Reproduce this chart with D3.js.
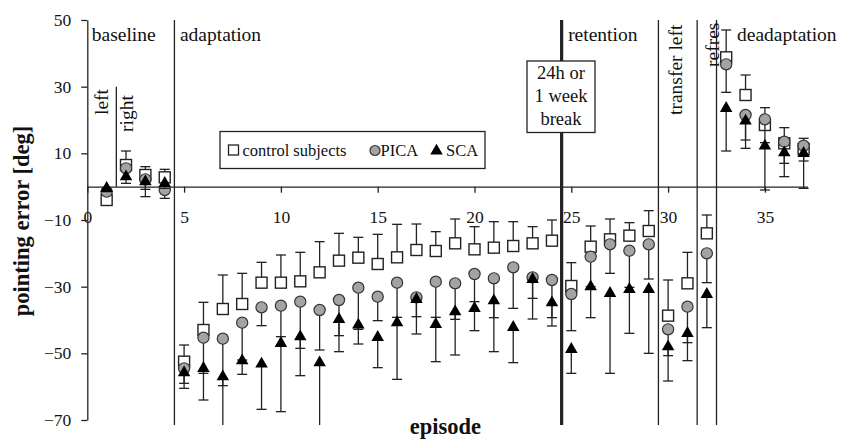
<!DOCTYPE html>
<html>
<head>
<meta charset="utf-8">
<script src="https://cdn.jsdelivr.net/npm/d3@7/dist/d3.min.js"></script>
<style>
  body { margin: 0; background: #fff; }
  svg text { font-family: "Liberation Serif", "Times New Roman", serif; }
</style>
</head>
<body>
<div id="chart"></div>
<script>
const episodes = [1,2,3,4,5,6,7,8,9,10,11,12,13,14,15,16,17,18,19,20,21,22,23,24,25,26,27,28,29,30,31,32,33,34,35,36,37];

const control = [-4, 6.5, 3.5, 2.8, -52.5, -43, -36.7, -35.2, -28.8, -28.8, -28.4, -25.7, -22.2, -21.3, -23.2, -21.2, -19, -19.3, -17, -18.8, -18.3, -17.8, -17, -16.2, -29.8, -18, -15.8, -14.7, -13.3, -38.7, -29, -14, 38.8, 27.5, 18.5, 13, 11.3];
const controlErr = [1, 4.2, 2.5, 2.4, 5, 8.3, 10.2, 9.2, 6.1, 8.3, 8.7, 9.2, 8.2, 6.1, 8.9, 9.9, 7.8, 5.8, 7.3, 6.8, 7.8, 7.3, 5, 6.2, 7, 6.2, 6.1, 3.9, 6.1, 10.7, 9.3, 5.5, 8.2, 6, 5.2, 4.7, 3.2];

const pica = [-1.5, 5.5, 2.2, -1, -54.5, -45.3, -45.6, -40.8, -36.2, -35.7, -34.5, -37, -34, -30.3, -33, -28.8, -33.2, -28.5, -29, -26.2, -27.5, -24.2, -27.2, -28, -32.2, -21, -17.3, -19.2, -17.3, -42.8, -36, -20, 36.7, 21.5, 20.2, 13.5, 12.3];
const picaErr = [1, 3, 3, 2.5, 4.5, 10.7, 14.1, 11.2, 5.5, 9.3, 14, 12, 10.7, 12.5, 7.2, 10.4, 5.8, 10.7, 10.8, 8.3, 11.8, 12.3, 6.3, 11.3, 11, 9, 8.7, 11, 10.4, 7.9, 10.8, 8.8, 8.4, 7.5, 7, 6.5, 4.6];

const sca = [-0.5, 3, 1.5, 1, -55.8, -54.5, -57, -52.2, -53.2, -47, -45, -52.8, -39.8, -41.5, -45.2, -40.8, -33.8, -41.3, -37.5, -36.5, -34.2, -42.2, -27.8, -34.8, -48.8, -30, -32, -30.8, -30.8, -48, -44, -32.3, 23.5, 19.7, 12.2, 10.2, 10];
const scaErr = [1, 2, 4.5, 1.5, 4.7, 9.5, 16, 4.1, 13.6, 20.5, 11.7, 20, 9.7, 5.7, 9.1, 17, 10.4, 11.2, 13, 6.7, 15.3, 10.6, 11.9, 7, 7.2, 9.3, 24, 13.2, 19.2, 10.3, 8.2, 10, 12.8, 8.2, 13.2, 7.2, 10.5];

const xTicks = [0, 5, 10, 15, 20, 25, 30, 35];
const yTicks = [50, 30, 10, -10, -30, -50, -70];

// phase boundaries (episode positions) and their labels
const boundaries = [4.5, 24.5, 29.5, 31.5, 32.5];
const phases = [
  {text: "baseline", at: 0, pad: 4.5},
  {text: "adaptation", at: 4.5, pad: 5.5},
  {text: "retention", at: 24.5, pad: 6.5},
  {text: "deadaptation", at: 32.5, pad: 20.5}
];

const W = 852, H = 442;
const ink = "#222";
const serif = "'Liberation Serif', 'Times New Roman', serif";

const svg = d3.select("#chart").append("svg")
  .attr("width", W)
  .attr("height", H)
  .attr("font-family", serif);

const x = d3.scaleLinear().domain([0, 37.2]).range([87.3, 807.5]);
const y = d3.scaleLinear().domain([-70, 50]).range([420, 20]);

svg.append("defs").append("clipPath").attr("id", "plot")
  .append("rect")
  .attr("x", 80).attr("y", y(50) - 2)
  .attr("width", 740).attr("height", y(-71.5) - y(50) + 2);

// axes
const xAxis = d3.axisBottom(x).tickValues(xTicks).tickSize(6).tickSizeOuter(0).tickPadding(18);
const yAxis = d3.axisLeft(y).tickValues(yTicks).tickSize(6).tickSizeOuter(0).tickPadding(10);

const gx = svg.append("g")
  .attr("transform", "translate(0," + y(0) + ")")
  .call(xAxis);
const gy = svg.append("g")
  .attr("transform", "translate(" + x(0) + ",0)")
  .call(yAxis);

[gx, gy].forEach(g => {
  g.attr("font-family", serif).attr("font-size", 17.5);
  g.select(".domain").attr("stroke", ink).attr("stroke-width", 1.3);
  g.selectAll(".tick line").attr("stroke", ink).attr("stroke-width", 1.3);
  g.selectAll(".tick text").attr("fill", "#111");
});

// phase separator lines
svg.selectAll(".sep")
  .data(boundaries)
  .enter()
  .append("line")
  .attr("x1", d => x(d)).attr("x2", d => x(d))
  .attr("y1", y(50)).attr("y2", y(-71.5))
  .attr("stroke", ink)
  .attr("stroke-width", d => d === 24.5 ? 3.2 : 1.3);

// left / right split inside baseline
svg.append("line")
  .attr("x1", x(1.5)).attr("x2", x(1.5))
  .attr("y1", y(30)).attr("y2", y(0))
  .attr("stroke", ink).attr("stroke-width", 1.3);

// phase labels
svg.selectAll(".phase")
  .data(phases)
  .enter()
  .append("text")
  .attr("x", d => x(d.at) + d.pad)
  .attr("y", 40.5)
  .attr("font-size", 19.5)
  .attr("fill", "#111")
  .text(d => d.text);

const vertLabels = [
  {text: "left", x: 108, y: 115},
  {text: "right", x: 133, y: 132},
  {text: "transfer left", x: 682, y: 115},
  {text: "refres", x: 719, y: 67}
];
svg.selectAll(".vlabel")
  .data(vertLabels)
  .enter()
  .append("text")
  .attr("transform", d => "translate(" + d.x + "," + d.y + ") rotate(-90)")
  .attr("font-size", 19.5)
  .attr("fill", "#111")
  .text(d => d.text);

// break box
const breakBox = svg.append("g");
breakBox.append("rect")
  .attr("x", 527).attr("y", 61)
  .attr("width", 68).attr("height", 71.5)
  .attr("fill", "#fff").attr("stroke", ink).attr("stroke-width", 1.3);
breakBox.selectAll("text")
  .data(["24h or", "1 week", "break"])
  .enter()
  .append("text")
  .attr("x", 561)
  .attr("y", (d, i) => 79 + i * 23)
  .attr("text-anchor", "middle")
  .attr("font-size", 18.5)
  .attr("fill", "#111")
  .text(d => d);

// series
const plot = svg.append("g").attr("clip-path", "url(#plot)");

const tri = d3.symbol().type(d3.symbolTriangle).size(68);

function drawSeries(vals, errs, dir, kind) {
  const rows = episodes.map((e, i) => ({e, v: vals[i], err: errs[i]}));
  const g = plot.append("g");
  const end = d => d.v + dir * d.err;

  g.selectAll(".bar")
    .data(rows)
    .enter()
    .append("line")
    .attr("x1", d => x(d.e)).attr("x2", d => x(d.e))
    .attr("y1", d => y(d.v)).attr("y2", d => y(end(d)))
    .attr("stroke", ink).attr("stroke-width", 1.3);

  g.selectAll(".cap")
    .data(rows)
    .enter()
    .append("line")
    .attr("x1", d => x(d.e) - 5).attr("x2", d => x(d.e) + 5)
    .attr("y1", d => y(end(d))).attr("y2", d => y(end(d)))
    .attr("stroke", ink).attr("stroke-width", 1.3);

  if (kind === "square") {
    g.selectAll(".m").data(rows).enter().append("rect")
      .attr("x", d => x(d.e) - 5.5).attr("y", d => y(d.v) - 5.5)
      .attr("width", 11).attr("height", 11)
      .attr("fill", "#fff").attr("stroke", ink).attr("stroke-width", 1.4);
  } else if (kind === "circle") {
    g.selectAll(".m").data(rows).enter().append("circle")
      .attr("cx", d => x(d.e)).attr("cy", d => y(d.v))
      .attr("r", 5.6)
      .attr("fill", "#a3a3a3").attr("stroke", "#333").attr("stroke-width", 1.2);
  } else {
    g.selectAll(".m").data(rows).enter().append("path")
      .attr("d", tri)
      .attr("transform", d => "translate(" + x(d.e) + "," + y(d.v) + ")")
      .attr("fill", "#000");
  }
}

drawSeries(control, controlErr, 1, "square");
drawSeries(pica, picaErr, -1, "circle");
drawSeries(sca, scaErr, -1, "triangle");

// legend
const legend = svg.append("g");
legend.append("rect")
  .attr("x", 220).attr("y", 131.5)
  .attr("width", 265).attr("height", 37)
  .attr("fill", "#fff").attr("stroke", ink).attr("stroke-width", 1.3);
legend.append("rect")
  .attr("x", 228.5).attr("y", 145)
  .attr("width", 10).attr("height", 10)
  .attr("fill", "#fff").attr("stroke", ink).attr("stroke-width", 1.3);
legend.append("circle")
  .attr("cx", 375).attr("cy", 150.5).attr("r", 5)
  .attr("fill", "#a3a3a3").attr("stroke", "#333").attr("stroke-width", 1.2);
legend.append("path")
  .attr("d", tri)
  .attr("transform", "translate(436.5,151)")
  .attr("fill", "#000");
legend.selectAll(".lt")
  .data([["control subjects", 242.5], ["PICA", 380.5], ["SCA", 446]])
  .enter()
  .append("text")
  .attr("x", d => d[1])
  .attr("y", 156)
  .attr("font-size", 16.5)
  .attr("fill", "#111")
  .text(d => d[0]);

// axis titles
svg.append("text")
  .attr("x", x(18.5))
  .attr("y", 434)
  .attr("text-anchor", "middle")
  .attr("font-size", 22.5)
  .attr("font-weight", "bold")
  .attr("fill", "#111")
  .text("episode");

svg.append("text")
  .attr("transform", "translate(29," + 221 + ") rotate(-90)")
  .attr("text-anchor", "middle")
  .attr("font-size", 22.5)
  .attr("font-weight", "bold")
  .attr("fill", "#111")
  .text("pointing error [deg]");
</script>
</body>
</html>
